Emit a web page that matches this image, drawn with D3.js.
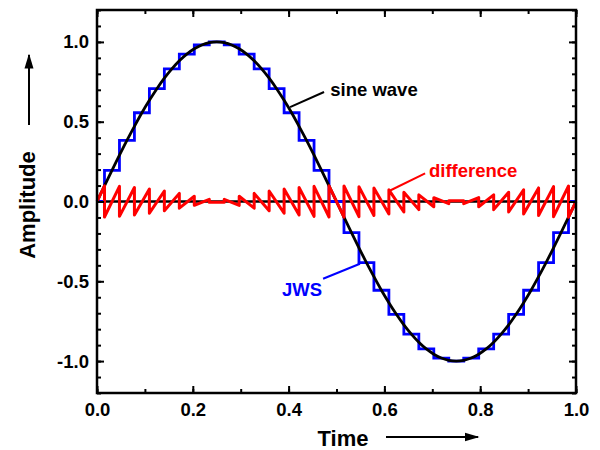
<!DOCTYPE html>
<html>
<head>
<meta charset="utf-8">
<script src="https://cdn.jsdelivr.net/npm/d3@7"></script>
<style>
  body { margin: 0; background: #fff; }
  text { font-family: "Liberation Sans", Arial, Helvetica, sans-serif; font-weight: bold; }
  .axis path { display: none; }
  .axis line { stroke: #000; stroke-width: 2; }
  .axis text { font-size: 18.5px; fill: #000; }
</style>
</head>
<body>
<div id="chart"></div>
<script>
// time samples of the smooth sine wave (every 1/64)
const sineT = d3.range(65).map(j => j / 64);
const sineVals = [0, 0.098, 0.195, 0.290, 0.383, 0.471, 0.556, 0.634, 0.707, 0.773, 0.831, 0.882, 0.924, 0.957, 0.981, 0.995,
  1.000, 0.995, 0.981, 0.957, 0.924, 0.882, 0.831, 0.773, 0.707, 0.634, 0.556, 0.471, 0.383, 0.290, 0.195, 0.098,
  0, -0.098, -0.195, -0.290, -0.383, -0.471, -0.556, -0.634, -0.707, -0.773, -0.831, -0.882, -0.924, -0.957, -0.981, -0.995,
  -1.000, -0.995, -0.981, -0.957, -0.924, -0.882, -0.831, -0.773, -0.707, -0.634, -0.556, -0.471, -0.383, -0.290, -0.195, -0.098, 0];

// JWS held levels (every 1/32)
const jwsT = d3.range(33).map(k => k / 32);
const jwsVals = [0, 0.195, 0.383, 0.556, 0.707, 0.831, 0.924, 0.981, 1.000, 0.981, 0.924, 0.831, 0.707, 0.556, 0.383, 0.195,
  0, -0.195, -0.383, -0.556, -0.707, -0.831, -0.924, -0.981, -1.000, -0.981, -0.924, -0.831, -0.707, -0.556, -0.383, -0.195, 0];

const xTicks = [0, 0.2, 0.4, 0.6, 0.8, 1.0];
const yTicks = [-1.0, -0.5, 0, 0.5, 1.0];

// annotation labels with their leader lines
const notes = [
  {text: "sine wave", x: 0.487, y: 0.70, anchor: "start", p0: [0.474, 0.686], p1: [0.403, 0.591], color: "#000"},
  {text: "difference", x: 0.693, y: 0.195, anchor: "start", p0: [0.685, 0.176], p1: [0.612, 0.069], color: "#ff0000"},
  {text: "JWS", x: 0.470, y: -0.553, anchor: "end", p0: [0.472, -0.484], p1: [0.549, -0.390], color: "#0000ff"}
];

const svgWidth = 600, svgHeight = 450;
const margin = {top: 10, right: 24, bottom: 57, left: 97};
const width = svgWidth - margin.left - margin.right;
const height = svgHeight - margin.top - margin.bottom;

const svg = d3.select("#chart").append("svg")
  .attr("width", svgWidth).attr("height", svgHeight);

svg.append("defs").append("marker")
  .attr("id", "head")
  .attr("viewBox", "0 0 10 10")
  .attr("refX", 9).attr("refY", 5)
  .attr("markerWidth", 7.5).attr("markerHeight", 7.5)
  .attr("markerUnits", "strokeWidth")
  .attr("orient", "auto")
  .append("path").attr("d", "M0,2 L10,5 L0,8 Z").attr("fill", "#000");

const g = svg.append("g").attr("transform", "translate(" + margin.left + "," + margin.top + ")");

const x = d3.scaleLinear().domain([0, 1]).range([0, width]);
const y = d3.scaleLinear().domain([-1.2, 1.2]).range([height, 0]);

g.append("clipPath").attr("id", "clip")
  .append("rect").attr("x", 0).attr("y", 0).attr("width", width).attr("height", height);

// zero line
g.append("line")
  .attr("x1", x(0)).attr("x2", x(1)).attr("y1", y(0)).attr("y2", y(0))
  .attr("stroke", "#000").attr("stroke-width", 2.5);

// JWS staircase
const jwsData = jwsT.map((t, i) => [t, jwsVals[i]]);
g.append("path").datum(jwsData)
  .attr("clip-path", "url(#clip)")
  .attr("fill", "none").attr("stroke", "#0000ff").attr("stroke-width", 2.8)
  .attr("d", d3.line().x(d => x(d[0])).y(d => y(d[1])).curve(d3.curveStep));

// sine wave
const sineData = sineT.map((t, i) => [t, sineVals[i]]);
g.append("path").datum(sineData)
  .attr("fill", "none").attr("stroke", "#000").attr("stroke-width", 2.8)
  .attr("d", d3.line().x(d => x(d[0])).y(d => y(d[1])).curve(d3.curveNatural));

// difference = sine - JWS over each hold step
const diffData = [];
jwsT.forEach((t, k) => {
  const j0 = Math.max(0, 2 * k - 1), j1 = Math.min(64, 2 * k + 1);
  diffData.push([sineT[j0], sineVals[j0] - jwsVals[k]]);
  diffData.push([sineT[j1], sineVals[j1] - jwsVals[k]]);
});
g.append("path").datum(diffData)
  .attr("clip-path", "url(#clip)")
  .attr("fill", "none").attr("stroke", "#ff0000").attr("stroke-width", 3)
  .attr("stroke-linejoin", "round")
  .attr("d", d3.line().x(d => x(d[0])).y(d => y(d[1])));

// axes: major and minor ticks, pointing inward, on all four sides
const fmt = d => d.toFixed(1);
const xMinor = d3.range(11).map(i => i / 10);
const yMinor = d3.range(-12, 13).map(i => i / 10);

g.append("g").attr("class", "axis").attr("transform", "translate(0," + height + ")")
  .call(d3.axisBottom(x).tickValues(xMinor).tickSize(-4).tickFormat(""));
g.append("g").attr("class", "axis").attr("transform", "translate(0," + height + ")")
  .call(d3.axisBottom(x).tickValues(xTicks).tickSize(-7).tickPadding(10).tickFormat(fmt));
g.append("g").attr("class", "axis")
  .call(d3.axisTop(x).tickValues(xMinor).tickSize(-4).tickFormat(""));
g.append("g").attr("class", "axis")
  .call(d3.axisTop(x).tickValues(xTicks).tickSize(-7).tickFormat(""));

g.append("g").attr("class", "axis")
  .call(d3.axisLeft(y).tickValues(yMinor).tickSize(-4).tickFormat(""));
g.append("g").attr("class", "axis")
  .call(d3.axisLeft(y).tickValues(yTicks).tickSize(-7).tickPadding(8).tickFormat(fmt));
g.append("g").attr("class", "axis").attr("transform", "translate(" + width + ",0)")
  .call(d3.axisRight(y).tickValues(yMinor).tickSize(-4).tickFormat(""));
g.append("g").attr("class", "axis").attr("transform", "translate(" + width + ",0)")
  .call(d3.axisRight(y).tickValues(yTicks).tickSize(-7).tickFormat(""));

// frame
g.append("rect")
  .attr("x", 0).attr("y", 0).attr("width", width).attr("height", height)
  .attr("fill", "none").attr("stroke", "#000").attr("stroke-width", 2.5);

// annotations
notes.forEach(n => {
  g.append("line")
    .attr("x1", x(n.p0[0])).attr("y1", y(n.p0[1]))
    .attr("x2", x(n.p1[0])).attr("y2", y(n.p1[1]))
    .attr("stroke", n.color).attr("stroke-width", 2);
  g.append("text")
    .attr("x", x(n.x)).attr("y", y(n.y))
    .attr("dy", "0.35em")
    .attr("text-anchor", n.anchor)
    .attr("font-size", "18.5px")
    .attr("fill", n.color)
    .text(n.text);
});

// axis titles with arrows
svg.append("text")
  .attr("x", 343).attr("y", 438).attr("dy", "0.35em")
  .attr("text-anchor", "middle").attr("font-size", "22px")
  .text("Time");
svg.append("line")
  .attr("x1", 386).attr("y1", 437).attr("x2", 478).attr("y2", 437)
  .attr("stroke", "#000").attr("stroke-width", 2).attr("marker-end", "url(#head)");

svg.append("text")
  .attr("transform", "translate(27,205)rotate(-90)")
  .attr("dy", "0.35em")
  .attr("text-anchor", "middle").attr("font-size", "22px")
  .text("Amplitude");
svg.append("line")
  .attr("x1", 29).attr("y1", 125).attr("x2", 29).attr("y2", 55)
  .attr("stroke", "#000").attr("stroke-width", 2).attr("marker-end", "url(#head)");
</script>
</body>
</html>
